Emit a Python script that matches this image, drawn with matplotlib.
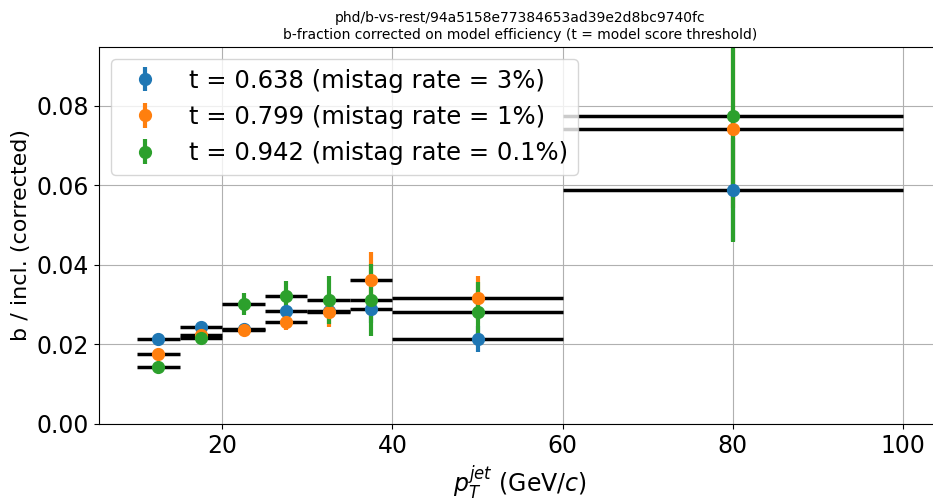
import numpy as np
import matplotlib
matplotlib.use('Agg')
import matplotlib.pyplot as plt

# pT bins (GeV/c)
bin_lo = np.array([10, 15, 20, 25, 30, 35, 40, 60])
bin_hi = np.array([15, 20, 25, 30, 35, 40, 60, 100])

# corrected b-fraction per threshold
frac_638 = [0.0213, 0.0244, 0.0238, 0.0285, 0.0283, 0.0288, 0.0213, 0.0589]
err_638 = [0.0007, 0.0008, 0.0008, 0.0012, 0.0015, 0.0035, 0.0033, 0.0130]
frac_799 = [0.01745, 0.0223, 0.0237, 0.0256, 0.0281, 0.0363, 0.0316, 0.0742]
err_799 = [0.0008, 0.0010, 0.0010, 0.0021, 0.0038, 0.0068, 0.0055, 0.0200]
frac_942 = [0.0143, 0.0217, 0.0302, 0.0321, 0.0312, 0.0311, 0.0282, 0.0775]
err_942 = [0.0008, 0.0012, 0.0027, 0.0039, 0.0060, 0.0091, 0.0074, 0.0317]

labels = ['t = 0.638 (mistag rate = 3%)',
          't = 0.799 (mistag rate = 1%)',
          't = 0.942 (mistag rate = 0.1%)']

centers = 0.5*(bin_lo + bin_hi)

fig = plt.figure(figsize=(9.33, 5.04), dpi=100)
ax = fig.add_axes([0.106, 0.159, 0.903, 0.748])

series = [(frac_638, err_638), (frac_799, err_799), (frac_942, err_942)]
for (yy, ee), lab in zip(series, labels):
  ax.hlines(yy, bin_lo, bin_hi, color='black', linewidth=2.5)
  ax.errorbar(centers, yy, yerr=ee, fmt='o', markersize=8.5, elinewidth=3, label=lab)

ax.set_xlim(5.5, 104.5)
ax.set_ylim(0, 0.0948)
ax.set_yticks([0.0, 0.02, 0.04, 0.06, 0.08])
ax.grid(True)
ax.tick_params(labelsize=17)
ax.set_xlabel(r'$p_T^{jet}$ (GeV/$c$)', fontsize=17)
ax.set_ylabel('b / incl. (corrected)', fontsize=16)
ax.set_title('phd/b-vs-rest/94a5158e77384653ad39e2d8bc9740fc\n'
             'b-fraction corrected on model efficiency (t = model score threshold)',
             fontsize=10)
ax.legend(loc='upper left', fontsize=17.5)

fig.savefig('out.png', dpi=100)
